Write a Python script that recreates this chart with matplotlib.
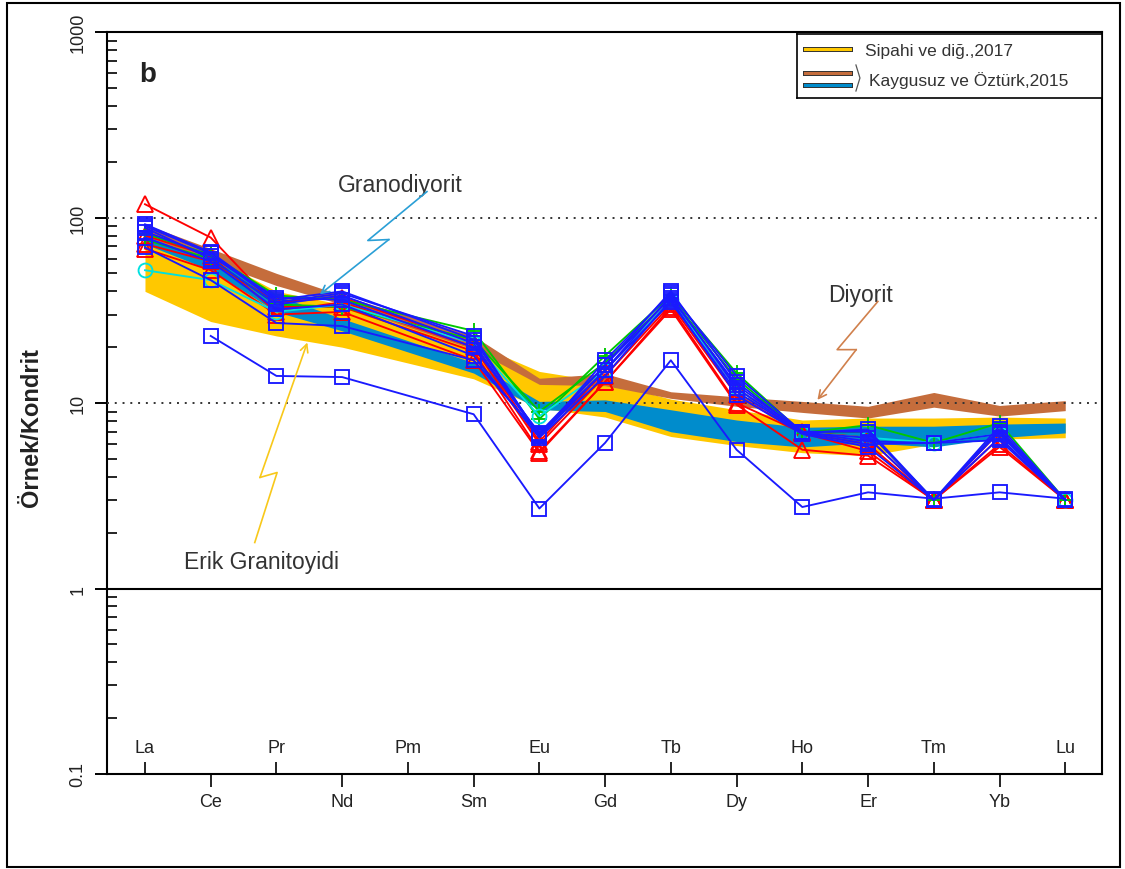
import numpy as np
import matplotlib.pyplot as plt
from matplotlib.lines import Line2D
from matplotlib.patches import Rectangle
import matplotlib.patheffects as pe

plt.rcParams['font.family'] = ['Liberation Sans', 'DejaVu Sans']

# element axis (Pm has no data)
elements = ['La', 'Ce', 'Pr', 'Nd', 'Pm', 'Sm', 'Eu', 'Gd', 'Tb', 'Dy', 'Ho', 'Er', 'Tm', 'Yb', 'Lu']
ree = ['La', 'Ce', 'Pr', 'Nd', 'Sm', 'Eu', 'Gd', 'Tb', 'Dy', 'Ho', 'Er', 'Tm', 'Yb', 'Lu']
top_labels = ['La', 'Pr', 'Pm', 'Eu', 'Tb', 'Ho', 'Tm', 'Lu']
bottom_labels = ['Ce', 'Nd', 'Sm', 'Gd', 'Dy', 'Er', 'Yb']

# reference fields (upper / lower envelopes)
sipahi_up = [85, 62, 40, 34, 21, 14.8, 13, 10.5, 9.2, 8.1, 8.3, 8.3, 8.4, 8.3]
sipahi_lo = [40, 27.5, 23, 20, 13.5, 9.4, 8.4, 6.6, 5.9, 5.4, 5.2, 6.0, 6.4, 6.5]
grano_up = [85, 62, 38, 28.5, 16.5, 10.2, 10.4, 9.2, 8.1, 7.4, 7.5, 7.5, 7.7, 7.8]
grano_lo = [72, 52, 31, 24.5, 14.5, 9.2, 9.0, 7.0, 6.2, 5.8, 6.1, 5.8, 6.5, 6.9]
diyo_up = [92, 68, 50, 38, 23, 13.6, 14.4, 11.5, 10.8, 10.2, 9.6, 11.4, 9.7, 10.3]
diyo_lo = [80, 58, 43, 34, 19.5, 12.6, 12.4, 10.6, 9.6, 8.9, 8.3, 9.5, 8.5, 9.1]

# samples (chondrite normalised)
red1 = [118, 78, 33, 33, 19, 5.5, 13, 32, 9.8, 5.6, 5.2, 3.0, 5.8, 3.0]
red2 = [68, 52, 30, 31, 17, 5.4, 13, 33, 10, 6.9, 5.5, 3.0, 6.0, 3.0]
red3 = [80, 62, 31, 35, 20, 6.0, 14, 34, 11, 6.9, 6.0, 3.0, 6.5, 3.0]
red4 = [72, 58, 35, 37, 21, 6.2, 15, 36, 12, 7.0, 6.5, 3.0, 7.0, 3.0]
green1 = [82, 63, 38, 36, 24.5, 8.2, 18, 38, 14.5, 6.9, 7.6, 6.1, 7.8, 3.0]
green2 = [76, 60, 34, 33, 22, 9.0, 16.5, 37, 13.5, 6.9, 7.0, 3.0, 7.2, 3.0]
cyan1 = [52, 46, 31, 34, 21, 8.5, 15, 36, 12, 6.9, 6.5, 6.1, 6.8, 3.0]
blue1 = [92, 65, 36, 40, 22, 6.7, 16, 40, 13, 6.9, 7.2, 3.0, 7.5, 3.0]
blue2 = [88, 60, 34, 38, 21, 6.6, 15, 38, 12, 6.9, 6.5, 3.0, 7.0, 3.0]
blue3 = [84, 62, 37, 36, 20, 6.9, 16, 37, 12.5, 7.0, 6.2, 6.1, 6.8, 3.0]
blue4 = [78, 58, 32, 34, 18, 6.5, 14, 36, 11, 6.8, 5.8, 3.0, 6.5, 3.0]
blue5 = [69, 46, 27, 26, 17, 6.8, 15, 35, 11.5, 6.9, 6.0, 6.1, 6.3, 3.0]
blue6 = [90, 64, 35, 39, 23, 6.6, 17, 39, 14, 7.0, 7.0, 3.0, 7.2, 3.0]
blue_low = [np.nan, 23, 14, 13.8, 8.7, 2.7, 6.1, 17, 5.6, 2.75, 3.3, 3.05, 3.3, 3.05]

x = np.array([elements.index(e) for e in ree])

fig = plt.figure(figsize=(11.25, 8.7), dpi=100)
ax = fig.add_axes([0.0951, 0.1092, 0.8845, 0.8528])

ax.fill_between(x, sipahi_lo, sipahi_up, color='#ffc800', lw=0, zorder=1)
ax.fill_between(x, grano_lo, grano_up, color='#008ccc', lw=0, zorder=2)
ax.fill_between(x, diyo_lo, diyo_up, color='#c56d3c', lw=0, zorder=3)

ax.axhline(100, color='#333333', lw=1.4, ls=(0, (1, 3)), zorder=4)
ax.axhline(10, color='#333333', lw=1.4, ls=(0, (1, 3)), zorder=4)
ax.axhline(1, color='black', lw=1.5, zorder=4)

samples = [
    (red1, '#ff0000', '^', 12), (red2, '#ff0000', '^', 12),
    (red3, '#ff0000', '^', 12), (red4, '#ff0000', '^', 12),
    (green1, '#00c800', '+', 12), (green2, '#00c800', '+', 12),
    (cyan1, '#00e0e0', 'o', 10),
    (blue_low, '#1a1aff', 's', 10), (blue5, '#1a1aff', 's', 10),
    (blue4, '#1a1aff', 's', 10), (blue3, '#1a1aff', 's', 10),
    (blue2, '#1a1aff', 's', 10), (blue6, '#1a1aff', 's', 10),
    (blue1, '#1a1aff', 's', 10),
]
for vals, col, mk, ms in samples:
    ax.plot(x, vals, color=col, lw=1.35, marker=mk, ms=ms, mfc='none',
            mec=col, mew=1.35, zorder=5)

ax.set_yscale('log')
ax.set_ylim(0.1, 1000)
ax.set_xlim(-0.578, 14.56)

ax.set_yticks([0.1, 1, 10, 100, 1000])
ax.set_yticklabels(['0.1', '1', '10', '100', '1000'], rotation=90, va='center')
ax.tick_params(axis='y', which='major', direction='out', length=9, width=1.4,
               labelsize=13, labelcolor='#222222', pad=6)
ax.tick_params(axis='y', which='minor', direction='in', length=7.5, width=1.2)

ax.set_xticks([elements.index(e) for e in bottom_labels], bottom_labels)
ax.set_xticks([elements.index(e) for e in top_labels], top_labels, minor=True)
ax.tick_params(axis='x', which='major', direction='out', length=9, width=1.2,
               labelsize=13, labelcolor='#222222', pad=5)
ax.tick_params(axis='x', which='minor', direction='in', length=9, width=1.2,
               labelsize=13, labelcolor='#222222', pad=-25)

for s in ax.spines.values():
    s.set_linewidth(1.5)

ax.set_ylabel('Örnek/Kondrit', fontsize=17, fontweight='bold', color='#222222')
ax.yaxis.set_label_coords(-0.064, 0.469)

ax.text(0.041, 0.943, 'b', transform=ax.transAxes, fontsize=20,
        fontweight='bold', color='#222222', ha='center', va='center')

# zigzag pointer labels
def pointer(xs, ys, col):
    ax.plot(xs[:-1], ys[:-1], color=col, lw=1.2, zorder=6)
    ax.annotate('', xy=(xs[-1], ys[-1]), xytext=(xs[-2], ys[-2]),
                arrowprops=dict(arrowstyle='->', color=col, lw=1.2,
                                shrinkA=0, shrinkB=0, mutation_scale=14),
                zorder=6)

pointer([4.29, 3.39, 3.71, 2.66], [138, 75.2, 76.1, 38.5], '#2a9fd6')
pointer([11.15, 10.53, 10.82, 10.23], [35.3, 19.4, 19.4, 10.4], '#d0804c')
pointer([1.67, 2.01, 1.75, 2.47], [1.77, 4.22, 3.97, 21.2], '#f8c81a')

ax.text(3.88, 150, 'Granodiyorit', fontsize=16.5, color='#333333', ha='center', va='center')
ax.text(10.88, 38.5, 'Diyorit', fontsize=16.5, color='#333333', ha='center', va='center')
ax.text(1.78, 1.40, 'Erik Granitoyidi', fontsize=16.5, color='#333333', ha='center', va='center')

# legend box
lg = fig.add_axes([0.7084, 0.8862, 0.2711, 0.0736])
lg.set_xlim(0, 305)
lg.set_ylim(64, 0)
lg.set_xticks([])
lg.set_yticks([])
for s in lg.spines.values():
    s.set_linewidth(1.2)
outline = [pe.Stroke(linewidth=3.6, foreground='#333333'), pe.Normal()]
lg.add_line(Line2D([8, 53], [15.5, 15.5], color='#ffc800', lw=2.2, path_effects=outline))
lg.add_line(Line2D([8, 53], [39, 39], color='#c56d3c', lw=2.2, path_effects=outline))
lg.add_line(Line2D([8, 53], [51.5, 51.5], color='#008ccc', lw=2.2, path_effects=outline))
lg.add_line(Line2D([59, 63, 59], [31, 44, 57], color='#555555', lw=0.9))
lg.text(68, 17, 'Sipahi ve diğ.,2017', fontsize=12.5, color='#333333', va='center')
lg.text(72, 46, 'Kaygusuz ve Öztürk,2015', fontsize=12.5, color='#333333', va='center')

fig.patches.append(Rectangle((0.0062, 0.0025), 0.9893, 0.9925, transform=fig.transFigure,
                             fill=False, edgecolor='black', lw=1.5))

fig.savefig('out.png', dpi=100)
